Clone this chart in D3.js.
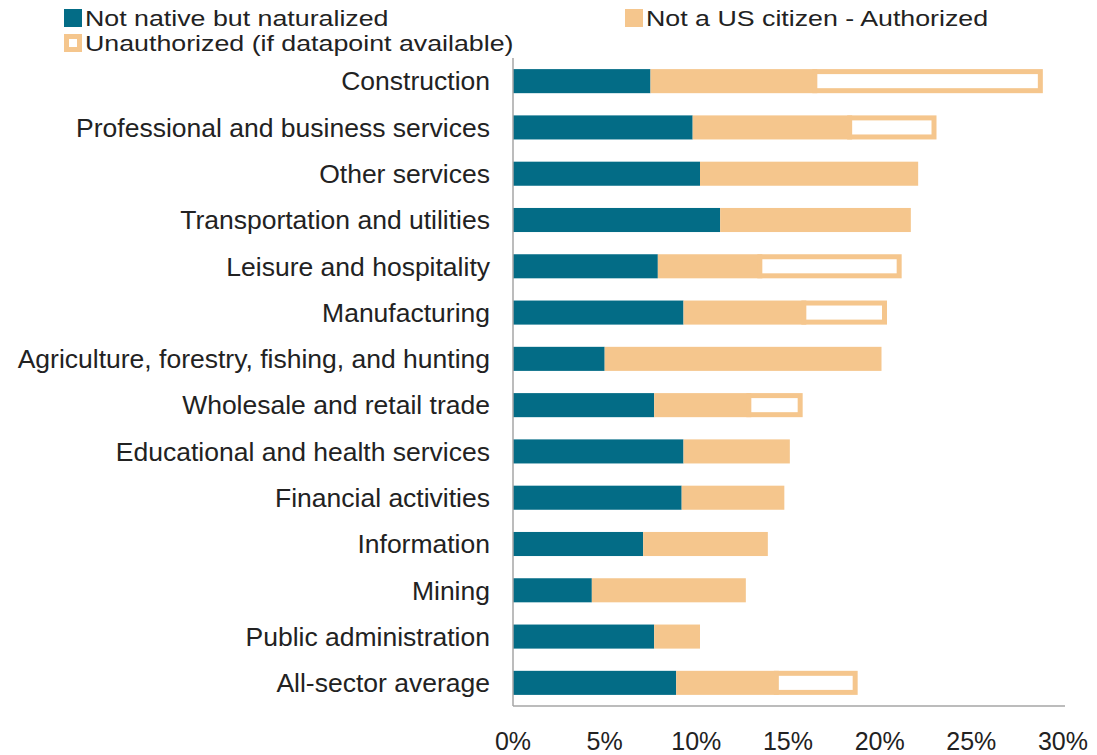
<!DOCTYPE html>
<html>
<head>
<meta charset="utf-8">
<script src="https://cdn.jsdelivr.net/npm/d3@7/dist/d3.min.js"></script>
<style>
  body { margin: 0; background: #fff; }
  text { font-family: Arial, "Liberation Sans", sans-serif; fill: #222; }
</style>
</head>
<body>
<div id="chart"></div>
<script>
// Data (shares of workers, %)
var sectors = [
  "Construction", "Professional and business services", "Other services",
  "Transportation and utilities", "Leisure and hospitality", "Manufacturing",
  "Agriculture, forestry, fishing, and hunting", "Wholesale and retail trade",
  "Educational and health services", "Financial activities", "Information",
  "Mining", "Public administration", "All-sector average"
];
var naturalized = [7.5, 9.8, 10.2, 11.3, 7.9, 9.3, 5.0, 7.7, 9.3, 9.2, 7.1, 4.3, 7.7, 8.9];
var authorized  = [9.1, 8.7, 11.9, 10.4, 5.7, 6.7, 15.1, 5.3, 5.8, 5.6, 6.8, 8.4, 2.5, 5.6];
// null where no datapoint
var unauthorized = [12.3, 4.6, null, null, 7.6, 4.4, null, 2.8, null, null, null, null, null, 4.3];
var xTicks = [0, 5, 10, 15, 20, 25, 30];

var svgWidth = 1097;
var svgHeight = 755;
var margin = { top: 58, right: 32, bottom: 49, left: 513 };
var chartWidth = svgWidth - margin.left - margin.right;
var chartHeight = svgHeight - margin.top - margin.bottom;

var teal = "#036c86";
var tan = "#f5c68d";

var svg = d3.select("#chart").append("svg")
  .attr("width", svgWidth)
  .attr("height", svgHeight);

var chartGroup = svg.append("g")
  .attr("transform", `translate(${margin.left}, ${margin.top})`);

var x = d3.scaleLinear().domain([0, 30]).range([0, 550]);
var y = d3.scaleBand().domain(sectors).range([0, chartHeight]).paddingInner(0.48).paddingOuter(0.24);

// Bars
sectors.forEach(function(s, i) {
  var n = naturalized[i], a = authorized[i], u = unauthorized[i];
  var y0 = y(s), h = y.bandwidth();
  chartGroup.append("rect")
    .attr("x", x(0)).attr("y", y0)
    .attr("width", x(n) - x(0)).attr("height", h)
    .attr("fill", teal);
  chartGroup.append("rect")
    .attr("x", x(n)).attr("y", y0)
    .attr("width", x(n + a) - x(n)).attr("height", h)
    .attr("fill", tan);
  if (u != null) {
    var sw = 5;
    chartGroup.append("rect")
      .attr("x", x(n + a) - sw / 2).attr("y", y0 + sw / 2)
      .attr("width", x(n + a + u) - x(n + a)).attr("height", h - sw)
      .attr("fill", "#fff")
      .attr("stroke", tan)
      .attr("stroke-width", sw);
  }
});

// Category labels
chartGroup.selectAll(".cat")
  .data(sectors)
  .enter()
  .append("text")
  .attr("class", "cat")
  .attr("x", -23)
  .attr("y", function(d) { return y(d) + y.bandwidth() / 2; })
  .attr("dy", "0.35em")
  .attr("text-anchor", "end")
  .attr("font-size", "26.5px")
  .text(function(d) { return d; });

// Axis lines
chartGroup.append("line")
  .attr("x1", 0).attr("x2", 0).attr("y1", 0).attr("y2", chartHeight)
  .attr("stroke", "#a6a6a6").attr("stroke-width", 1.5);
chartGroup.append("line")
  .attr("x1", 0).attr("x2", x(30) + 2).attr("y1", chartHeight).attr("y2", chartHeight)
  .attr("stroke", "#a6a6a6").attr("stroke-width", 1.5);

// Tick labels
chartGroup.selectAll(".tick-label")
  .data(xTicks)
  .enter()
  .append("text")
  .attr("x", function(d) { return x(d); })
  .attr("y", chartHeight + 44)
  .attr("text-anchor", "middle")
  .attr("font-size", "25px")
  .text(function(d) { return d + "%"; });

// Legend (text is slightly stretched horizontally in the original)
var legend = [
  { label: "Not native but naturalized", x: 64, y: 9, type: "nat" },
  { label: "Not a US citizen - Authorized", x: 625, y: 9, type: "auth" },
  { label: "Unauthorized (if datapoint available)", x: 64, y: 34, type: "unauth" }
];
legend.forEach(function(l) {
  if (l.type === "unauth") {
    svg.append("rect").attr("x", l.x + 2.5).attr("y", l.y + 2.5)
      .attr("width", 13).attr("height", 13)
      .attr("fill", "#fff").attr("stroke", tan).attr("stroke-width", 5);
  } else {
    svg.append("rect").attr("x", l.x).attr("y", l.y)
      .attr("width", 18).attr("height", 18)
      .attr("fill", l.type === "nat" ? teal : tan);
  }
  svg.append("text")
    .attr("transform", `translate(${l.x + 21}, ${l.y + 9}) scale(1.19, 1)`)
    .attr("dy", "0.35em")
    .attr("font-size", "22.5px")
    .text(l.label);
});
</script>
</body>
</html>
